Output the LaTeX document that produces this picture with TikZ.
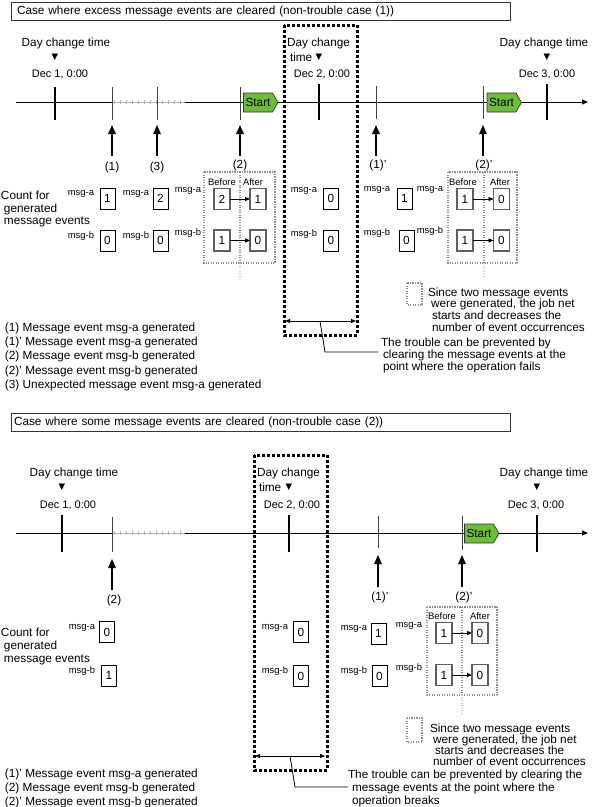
\documentclass[tikz,border=0pt]{standalone}
\usepackage{fontspec}
\setmainfont{Liberation Sans}
\newfontfamily\symf{DejaVu Sans}
\usetikzlibrary{arrows.meta,shapes.symbols}
\definecolor{startgreen}{RGB}{108,190,50}
\definecolor{dgray}{RGB}{95,95,95}
\definecolor{lgray}{RGB}{140,140,140}
\begin{document}
\begin{tikzpicture}[x=1pt,y=-1pt,
  every node/.style={inner sep=0pt, outer sep=0pt},
  big/.style={font=\fontsize{11.8}{12}\selectfont},
  dec/.style={font=\fontsize{11}{12}\selectfont},
  sml/.style={font=\fontsize{9.4}{10}\selectfont},
  tl/.style={big, anchor=base west},
  lab/.style={sml, anchor=base east},
  tri/.style={font=\symf\fontsize{8.5}{9}\selectfont},
  cbox/.style={draw, line width=0.9pt, minimum width=15pt, minimum height=21pt, font=\fontsize{11.8}{12}\selectfont},
  gbox/.style={cbox, draw=dgray, line width=1.3pt, minimum width=16pt},
  grp/.style={draw=lgray, line width=1.1pt, dash pattern=on 1.3pt off 1.2pt},
  grpl/.style={draw=lgray!45, line width=1.1pt, dash pattern=on 1.3pt off 1.2pt},
  tdot/.style={line width=3pt, dash pattern=on 3pt off 2pt},
  dect/.style={line width=1.5pt},
  evt/.style={line width=0.9pt, draw=black!75},
  axis/.style={line width=0.9pt},
  axarr/.style={axis, -{Triangle[length=6pt,width=5pt]}},
  hatch/.style={draw=black!30, line width=4pt, dash pattern=on 0.7pt off 5.3pt},
  hline/.style={draw=black!30, line width=0.7pt},
  uparr/.style={line width=1.2pt, -{Triangle[length=9pt,width=7.5pt]}},
  smarr/.style={line width=0.8pt, -{Triangle[length=5pt,width=4pt]}},
  dbl/.style={line width=0.9pt, {Triangle[length=5pt,width=4pt]}-{Triangle[length=5pt,width=4pt]}},
  lead/.style={line width=0.8pt},
  startflag/.style={shape=signal, signal to=east, signal pointer angle=120, draw=black!80, line width=0.7pt, fill=startgreen, minimum width=34pt, minimum height=19pt, inner xsep=2pt, big},
  titlebox/.style={draw=black!80, line width=0.8pt, anchor=north west, minimum height=18pt, text width=487pt, align=left, big}
]
\useasboundingbox (0,0) rectangle (592,807);
\fill[white] (0,0) rectangle (592,807);

%================ TOP CASE ================
\node[titlebox, inner xsep=6pt] (title1) at (11,2) {Case where excess message events are cleared (non-trouble case (1))};

% day change labels
\node[tl, anchor=base] (d1h) at (66,46) {Day change time};
\node[tri] (d1t) at (55,57) {▼};
\node[dec, anchor=base] (d1d) at (60,77) {Dec 1, 0:00};
\node[tl] (d2h) at (287,46) {Day change};
\node[tl] (d2m) at (290,61) {time};
\node[tri] (d2t) at (319,57) {▼};
\node[dec, anchor=base] (d2d) at (322,77) {Dec 2, 0:00};
\node[tl, anchor=base] (d3h) at (544,46) {Day change time};
\node[tri] (d3t) at (547,57) {▼};
\node[dec, anchor=base] (d3d) at (547,77) {Dec 3, 0:00};

% axis
\coordinate (ax1a) at (16,102);
\coordinate (ax1b) at (112,102);
\coordinate (ax1c) at (185,102);
\coordinate (ax1d) at (588,102);
\draw[axis] (ax1a) -- (ax1b);
\draw[hline] (ax1b) -- (ax1c);
\draw[hatch] (114,102) -- (186,102);
\draw[axarr] (ax1c) -- (ax1d);

% ticks
\draw[dect] (55,87) -- (55,120);
\draw[dect] (319,84) -- (319,120);
\draw[dect] (547,84) -- (547,120);
\draw[evt] (112,87) -- (112,120);
\draw[evt] (157,87) -- (157,120);
\draw[evt] (240,87) -- (240,120);
\draw[evt] (376,86) -- (376,119);
\draw[evt] (483,86) -- (483,119);

% start flags
\node[startflag] (st1) at (258,102.5) {Start};
\node[startflag] (st2) at (501.5,102.5) {Start};

% dotted thick box
\draw[tdot] (284,25) rectangle (357,335);

% up arrows
\coordinate (u1b) at (112,156); \coordinate (u1t) at (112,125);
\coordinate (u3b) at (157,156); \coordinate (u3t) at (157,125);
\coordinate (u2b) at (240,156); \coordinate (u2t) at (240,125);
\coordinate (u4b) at (376,156); \coordinate (u4t) at (376,125);
\coordinate (u5b) at (483,156); \coordinate (u5t) at (483,125);
\foreach \a in {u1,u3,u2,u4,u5} \draw[uparr] (\a b) -- (\a t);
\node[big] (l1) at (112,167) {(1)};
\node[big] (l3) at (157,167) {(3)};
\node[big] (l2) at (240,165) {(2)};
\node[big] (l4) at (378,165) {(1)'};
\node[big] (l5) at (484,165) {(2)'};

% count label
\node[tl] (cnta) at (1,199) {Count for};
\node[tl] (cntb) at (4,212) {generated};
\node[tl] (cntc) at (4,224) {message events};

% (1)
\node[lab] (m1a) at (94,195) {msg-a};
\node[lab] (m1b) at (94,238) {msg-b};
\node[cbox] (c1a) at (107.5,198.5) {1};
\node[cbox] (c1b) at (107.5,240.5) {0};
% (3)
\node[lab] (m3a) at (149,195) {msg-a};
\node[lab] (m3b) at (149,238) {msg-b};
\node[cbox] (c3a) at (160.5,198.5) {2};
\node[cbox] (c3b) at (160.5,240.5) {0};
% (2)
\node[lab] (m2a) at (201,192) {msg-a};
\node[lab] (m2b) at (201,235) {msg-b};
\draw[grp] (204,172) rectangle (275,263);
\draw[grp] (240,172) -- (240,263);
\draw[grpl] (240,263) -- (240,278);
\node[sml] (bf1) at (222,182) {Before};
\node[sml] (af1) at (253,182) {After};
\node[gbox] (b2a) at (222,199) {2};
\node[gbox] (a2a) at (258,199) {1};
\node[gbox] (b2b) at (222,240.5) {1};
\node[gbox] (a2b) at (258,240.5) {0};
\draw[smarr] (b2a) -- (a2a);
\draw[smarr] (b2b) -- (a2b);
% Dec 2
\node[lab] (mda) at (317,192) {msg-a};
\node[lab] (mdb) at (317,236) {msg-b};
\node[cbox] (cda) at (331,198.5) {0};
\node[cbox] (cdb) at (331,240.5) {0};
% (1)'
\node[lab] (m4a) at (390,191) {msg-a};
\node[lab] (m4b) at (390,235) {msg-b};
\node[cbox] (c4a) at (404.5,198.5) {1};
\node[cbox] (c4b) at (406.5,240.5) {0};
% (2)'
\node[lab] (m5a) at (443,191) {msg-a};
\node[lab] (m5b) at (443,233) {msg-b};
\draw[grp] (448,172) rectangle (517,263);
\draw[grp] (484,172) -- (484,263);
\draw[grpl] (484,263) -- (484,278);
\node[sml] (bf2) at (463,182) {Before};
\node[sml] (af2) at (500,182) {After};
\node[gbox] (b5a) at (465,199) {1};
\node[gbox] (a5a) at (501.5,199) {0};
\node[gbox] (b5b) at (465,240.5) {1};
\node[gbox] (a5b) at (501.5,240.5) {0};
\draw[smarr] (b5a) -- (a5a);
\draw[smarr] (b5b) -- (a5b);

% gray legend
\draw[grp] (407,283) rectangle (422,305);
\node[tl] (g1a) at (428,296) {Since two message events};
\node[tl] (g1b) at (431,307.5) {were generated, the job net};
\node[tl] (g1c) at (432,319) {starts and decreases the};
\node[tl] (g1d) at (432,331) {number of event occurrences};

% clearing arrow and leader
\coordinate (da1) at (285,321); \coordinate (db1) at (356,321);
\draw[dbl] (da1) -- (db1);
\coordinate (le1a) at (320,321); \coordinate (le1b) at (325,352); \coordinate (le1c) at (378,352);
\draw[lead] (le1a) -- (le1b) -- (le1c);
\node[tl] (tr1a) at (381,346) {The trouble can be prevented by};
\node[tl] (tr1b) at (383,358) {clearing the message events at the};
\node[tl] (tr1c) at (383,370.5) {point where the operation fails};

% list
\node[tl] (li1) at (5,331) {(1) Message event msg-a generated};
\node[tl] (li2) at (5,345.5) {(1)' Message event msg-a generated};
\node[tl] (li3) at (5,359.5) {(2) Message event msg-b generated};
\node[tl] (li4) at (5,374) {(2)' Message event msg-b generated};
\node[tl] (li5) at (5,388) {(3) Unexpected message event msg-a generated};

%================ BOTTOM CASE ================
\node[titlebox, inner xsep=3pt, text width=493pt] (title2) at (11,413) {Case where some message events are cleared (non-trouble case (2))};

\node[tl, anchor=base] (e1h) at (74,476) {Day change time};
\node[tri] (e1t) at (62,487) {▼};
\node[dec, anchor=base] (e1d) at (68,508) {Dec 1, 0:00};
\node[tl] (e2h) at (257,476) {Day change};
\node[tl] (e2m) at (259,491) {time};
\node[tri] (e2t) at (289,487) {▼};
\node[dec, anchor=base] (e2d) at (292,508) {Dec 2, 0:00};
\node[tl, anchor=base] (e3h) at (544,476) {Day change time};
\node[tri] (e3t) at (537,487) {▼};
\node[dec, anchor=base] (e3d) at (536,508) {Dec 3, 0:00};

\coordinate (ax2a) at (16,533);
\coordinate (ax2b) at (112,533);
\coordinate (ax2c) at (185,533);
\coordinate (ax2d) at (588,533);
\draw[axis] (ax2a) -- (ax2b);
\draw[hline] (ax2b) -- (ax2c);
\draw[hatch] (114,533) -- (186,533);
\draw[axarr] (ax2c) -- (ax2d);

\draw[dect] (62,515) -- (62,552);
\draw[dect] (289,515) -- (289,552);
\draw[dect] (537,515) -- (537,552);
\draw[evt] (112,517) -- (112,552);
\draw[evt] (378,516) -- (378,548);
\draw[evt] (462,516) -- (462,550);

\node[startflag] (st3) at (479,533.5) {Start};

\draw[tdot] (254,455) rectangle (327,770);

\coordinate (v1b) at (112,590); \coordinate (v1t) at (112,559);
\coordinate (v2b) at (378,587); \coordinate (v2t) at (378,555);
\coordinate (v3b) at (462,587); \coordinate (v3t) at (462,555);
\foreach \a in {v1,v2,v3} \draw[uparr] (\a b) -- (\a t);
\node[big] (k1) at (114,600) {(2)};
\node[big] (k2) at (380,597) {(1)'};
\node[big] (k3) at (464,597) {(2)'};

\node[tl] (cnd) at (1,636) {Count for};
\node[tl] (cne) at (4,649) {generated};
\node[tl] (cnf) at (4,662) {message events};

\node[lab] (n1a) at (95,629) {msg-a};
\node[lab] (n1b) at (95,673) {msg-b};
\node[cbox] (k1a) at (107,632) {0};
\node[cbox] (k1b) at (109,675.5) {1};

\node[lab] (nda) at (288,629) {msg-a};
\node[lab] (ndb) at (288,673) {msg-b};
\node[cbox] (kda) at (301,632) {0};
\node[cbox] (kdb) at (301,676) {0};

\node[lab] (n4a) at (367,630) {msg-a};
\node[lab] (n4b) at (367,673) {msg-b};
\node[cbox] (k4a) at (378.5,633.5) {1};
\node[cbox] (k4b) at (379.5,676) {0};

\node[lab] (n5a) at (422,627) {msg-a};
\node[lab] (n5b) at (422,670) {msg-b};
\draw[grp] (427,607) rectangle (497,695);
\draw[grp] (462,607) -- (462,695);
\draw[grpl] (462,695) -- (462,713);
\node[sml] (bf3) at (442,616) {Before};
\node[sml] (af3) at (480,616) {After};
\node[gbox] (b6a) at (444,633) {1};
\node[gbox] (a6a) at (480,633) {0};
\node[gbox] (b6b) at (444,675) {1};
\node[gbox] (a6b) at (480,675) {0};
\draw[smarr] (b6a) -- (a6a);
\draw[smarr] (b6b) -- (a6b);

\draw[grp] (407,718) rectangle (422,742);
\node[tl] (g2a) at (430,732) {Since two message events};
\node[tl] (g2b) at (433,743.5) {were generated, the job net};
\node[tl] (g2c) at (435,754.5) {starts and decreases the};
\node[tl] (g2d) at (433,765.5) {number of event occurrences};

\coordinate (da2) at (255,756); \coordinate (db2) at (325,756);
\draw[dbl] (da2) -- (db2);
\coordinate (le2a) at (290,756); \coordinate (le2b) at (295,787); \coordinate (le2c) at (348,787);
\draw[lead] (le2a) -- (le2b) -- (le2c);
\node[tl] (tr2a) at (348,778) {The trouble can be prevented by clearing the};
\node[tl] (tr2b) at (352,791) {message events at the point where the};
\node[tl] (tr2c) at (352,804) {operation breaks};

\node[tl] (lj1) at (5,777) {(1)' Message event msg-a generated};
\node[tl] (lj2) at (5,791) {(2) Message event msg-b generated};
\node[tl] (lj3) at (5,805) {(2)' Message event msg-b generated};
\end{tikzpicture}
\end{document}
